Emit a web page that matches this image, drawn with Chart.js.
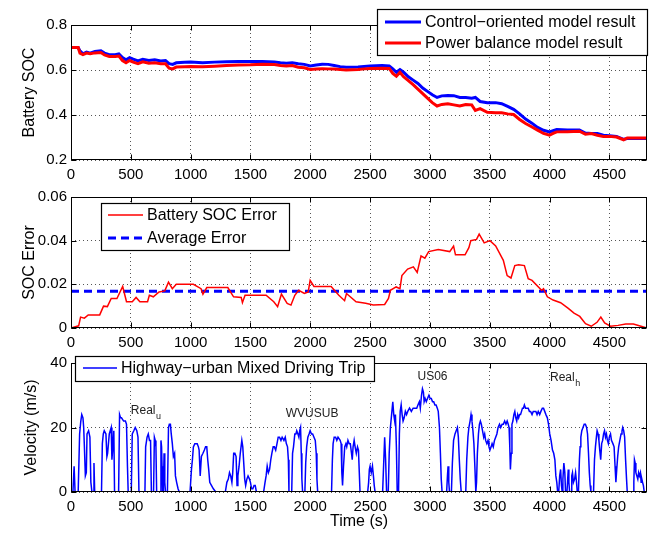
<!DOCTYPE html>
<html>
<head>
<meta charset="utf-8">
<script src="https://cdn.jsdelivr.net/npm/chart.js@4.4.1/dist/chart.umd.min.js"></script>
<style>
  html, body { margin: 0; padding: 0; background: #fff; }
  #wrap { position: relative; width: 659px; height: 533px; overflow: hidden; }
  canvas { position: absolute; left: 0; }
</style>
</head>
<body>
<div id="wrap">
  <canvas id="c1" width="659" height="182" style="top:0px"></canvas>
  <canvas id="c2" width="659" height="168" style="top:182px"></canvas>
  <canvas id="c3" width="659" height="183" style="top:350px"></canvas>
</div>
<script>
// ---------------- DATA ----------------
const X_MAX = 4815;
const xTickValues = [0, 500, 1000, 1500, 2000, 2500, 3000, 3500, 4000, 4500];

// Panel 1: Battery SOC
const socTime = [0,60,75,100,130,160,200,250,280,320,370,400,430,460,490,520,560,600,650,700,750,790,820,850,880,950,1000,1100,1200,1300,1400,1500,1600,1700,1750,1800,1850,1900,1950,2000,2050,2100,2150,2200,2250,2300,2400,2450,2500,2600,2660,2690,2720,2750,2780,2820,2860,2900,2940,2980,3020,3060,3100,3150,3200,3250,3300,3350,3380,3420,3480,3550,3600,3650,3700,3750,3800,3850,3900,3950,4000,4030,4060,4150,4250,4300,4350,4400,4450,4500,4560,4620,4650,4700,4815];
const socControl = [0.70,0.70,0.685,0.672,0.68,0.675,0.682,0.685,0.675,0.668,0.668,0.672,0.655,0.645,0.655,0.648,0.64,0.648,0.642,0.645,0.64,0.642,0.628,0.625,0.632,0.634,0.636,0.632,0.635,0.637,0.638,0.638,0.638,0.636,0.632,0.63,0.632,0.628,0.625,0.618,0.622,0.626,0.625,0.62,0.615,0.612,0.613,0.616,0.618,0.62,0.618,0.605,0.59,0.602,0.59,0.57,0.555,0.54,0.52,0.505,0.49,0.478,0.485,0.487,0.486,0.478,0.478,0.475,0.478,0.46,0.455,0.455,0.45,0.438,0.425,0.405,0.382,0.365,0.345,0.332,0.325,0.33,0.335,0.333,0.333,0.32,0.318,0.318,0.31,0.308,0.305,0.292,0.295,0.296,0.295];
const socPower = [0.70,0.70,0.675,0.668,0.675,0.672,0.676,0.678,0.667,0.66,0.66,0.662,0.642,0.632,0.642,0.635,0.628,0.636,0.63,0.632,0.628,0.628,0.608,0.605,0.613,0.614,0.615,0.614,0.617,0.62,0.622,0.623,0.626,0.624,0.62,0.618,0.62,0.612,0.61,0.602,0.604,0.606,0.605,0.604,0.602,0.60,0.602,0.605,0.607,0.608,0.607,0.585,0.572,0.59,0.57,0.553,0.535,0.515,0.495,0.475,0.455,0.44,0.447,0.45,0.445,0.44,0.447,0.445,0.42,0.428,0.412,0.41,0.41,0.405,0.402,0.38,0.362,0.348,0.333,0.318,0.31,0.318,0.325,0.326,0.328,0.315,0.318,0.31,0.305,0.305,0.302,0.29,0.298,0.298,0.298];
const socYTicks = [0.2, 0.4, 0.6, 0.8];

// Panel 2: SOC error
const errTime = [0,64,80,112,144,240,272,304,336,384,432,464,512,544,576,640,655,688,736,784,815,847,880,1023,1087,1103,1135,1311,1359,1423,1433,1455,1631,1695,1727,1759,1807,1839,1871,1903,1951,1983,1999,2031,2175,2191,2239,2287,2303,2383,2463,2527,2622,2654,2670,2718,2750,2766,2814,2862,2894,2926,2958,2990,3070,3166,3198,3214,3294,3326,3342,3390,3412,3454,3502,3550,3614,3646,3678,3710,3742,3790,3822,3854,3934,3950,3982,4030,4093,4157,4205,4253,4301,4349,4397,4429,4461,4509,4573,4637,4701,4765,4813];
const errValue = [0,0.001,0.005,0.0045,0.006,0.006,0.010,0.0098,0.0135,0.0135,0.019,0.012,0.012,0.014,0.012,0.012,0.015,0.0143,0.0165,0.017,0.021,0.018,0.020,0.020,0.018,0.0155,0.0185,0.0185,0.0143,0.014,0.0116,0.015,0.015,0.012,0.0098,0.0155,0.0113,0.0105,0.015,0.0173,0.0158,0.0165,0.0218,0.019,0.019,0.018,0.015,0.0125,0.0158,0.012,0.0113,0.0105,0.0108,0.0135,0.0173,0.0188,0.018,0.024,0.027,0.028,0.0255,0.033,0.032,0.035,0.036,0.035,0.0375,0.0335,0.0335,0.0368,0.040,0.0406,0.043,0.039,0.040,0.0376,0.031,0.024,0.0229,0.0286,0.029,0.0286,0.0226,0.0218,0.0173,0.018,0.0143,0.0128,0.0116,0.009,0.0068,0.0053,0.002,0.0008,0.0026,0.005,0.0023,0.0008,0.0012,0.0018,0.0018,0.0008,0];
const avgErrTime = [0, 4815];
const avgErrValue = [0.0168, 0.0168];
const errYTicks = [0, 0.02, 0.04, 0.06];

// Panel 3: velocity
const velTime = [0,16,26,34,60,72,82,90,100,106,112,120,128,134,147,158,166,175,186,192,198,255,262,270,278,292,300,306,320,336,342,350,358,364,398,406,414,422,440,455,464,472,478,504,512,525,537,550,560,568,618,624,636,646,656,665,672,690,697,704,710,716,745,752,757,761,766,772,778,784,790,806,815,822,831,838,847,856,866,873,883,895,905,995,1007,1015,1023,1035,1045,1055,1065,1071,1080,1090,1103,1115,1125,1135,1143,1151,1160,1175,1190,1210,1290,1303,1315,1325,1335,1345,1352,1360,1370,1380,1388,1395,1405,1415,1428,1436,1444,1452,1460,1470,1480,1492,1500,1510,1520,1530,1540,1550,1610,1622,1631,1640,1650,1660,1670,1679,1690,1700,1711,1722,1732,1743,1755,1765,1780,1791,1800,1810,1817,1822,1845,1852,1860,1871,1880,1887,1897,1905,1912,1919,1925,1930,1936,1955,1962,1970,1980,1990,1999,2010,2020,2031,2042,2050,2056,2062,2178,2185,2191,2200,2212,2222,2232,2240,2250,2258,2264,2270,2278,2288,2298,2305,2315,2325,2335,2345,2351,2358,2367,2375,2385,2395,2403,2410,2416,2480,2488,2494,2500,2510,2520,2528,2535,2542,2605,2615,2622,2630,2638,2652,2660,2670,2680,2690,2698,2706,2712,2720,2727,2738,2745,2752,2760,2768,2776,2785,2795,2805,2815,2830,2845,2860,2875,2890,2900,2912,2920,2930,2938,2946,2952,2960,2970,2980,2992,3002,3012,3022,3032,3042,3052,3062,3070,3080,3088,3095,3102,3140,3147,3152,3158,3164,3180,3188,3198,3210,3220,3230,3238,3246,3254,3262,3300,3308,3318,3326,3336,3344,3352,3360,3368,3376,3384,3390,3397,3406,3414,3422,3430,3440,3450,3458,3466,3476,3486,3494,3502,3512,3520,3530,3540,3550,3560,3570,3582,3592,3604,3614,3625,3636,3646,3655,3662,3668,3673,3680,3686,3694,3702,3710,3718,3726,3734,3742,3750,3758,3766,3774,3782,3790,3800,3810,3822,3832,3842,3854,3864,3874,3886,3896,3906,3918,3928,3940,3950,3960,3970,3982,3992,4002,4013,4025,4035,4045,4053,4061,4068,4077,4085,4093,4100,4106,4112,4120,4128,4134,4146,4152,4157,4162,4168,4180,4186,4192,4200,4210,4218,4226,4232,4242,4250,4256,4262,4270,4280,4290,4300,4310,4318,4326,4333,4340,4346,4368,4376,4384,4392,4398,4406,4413,4420,4428,4436,4444,4452,4460,4468,4476,4484,4492,4500,4510,4518,4530,4540,4548,4555,4562,4570,4578,4588,4598,4606,4612,4620,4628,4636,4644,4650,4700,4705,4710,4716,4722,4730,4738,4745,4752,4760,4766,4772,4778,4785,4792,4815];
const velSpeed = [0,0,8,0,0,18,22,24,23,20,14,5,6,18,19,17,3,0,0,9,0,0,15,18,19,18,11,12,18,20,10,14,19,0,0,24,23,23,22,22,21,8,0,0,18,19,20,19,17,0,0,14,17,18,16,16,0,0,17,16,14,0,0,16,14,8,0,0,12,3,0,0,20,21,21,18,15,11,12,5,3,1,0,0,7,10,14,15,15,15,14,13,5,11,12,13,14,14,10,7,3,2,1,0,0,3,4,6,5,3,6,12,12,11,2,5,8,12,16,14,9,4,2,4,5,4,3,1,1,2,2,0,0,3,5,8,6,7,10,12,14,14,13,15,17,17,16,17,16,17,15,14,10,0,0,12,14,18,18,19,18,17,19,20,12,4,0,0,9,14,17,18,19,18,18,17,16,12,4,0,0,10,15,17,17,16,17,17,16,15,6,2,8,14,15,14,16,15,15,12,10,14,16,14,12,14,13,6,0,0,3,7,8,6,8,5,2,0,0,10,17,10,0,0,12,20,24,28,24,22,24,14,0,0,18,25,27,24,22,23,25,24,25,26,25,26,26,26,27,28,26,30,32,31,28,29,28,29,30,29,29,28,28,27,27,26,25,20,12,4,0,0,5,8,3,0,0,9,16,18,19,20,17,10,4,0,0,10,17,20,22,24,22,19,15,8,0,3,12,18,21,22,21,19,17,18,16,15,16,14,13,14,15,14,16,17,18,20,21,20,21,21,22,21,22,21,20,14,7,12,21,22,24,25,23,22,24,23,24,24,25,26,26,27,26,26,26,25,25,24,25,25,25,24,25,24,25,26,26,25,24,23,21,18,16,13,12,10,5,3,0,0,5,7,2,0,4,9,6,0,0,4,7,3,0,0,5,6,3,4,6,3,0,0,10,14,17,19,20,21,21,20,18,12,6,2,0,0,10,14,17,19,18,16,13,10,15,16,18,19,17,18,16,15,17,18,16,15,14,8,3,7,11,14,16,18,19,20,19,17,10,4,0,0,3,10,9,6,5,4,6,5,6,3,4,3,2,0,0];
const velYTicks = [0, 20, 40];

// Cycle annotations (text, subscript, time, velocity)
const cycleNames = ['Real', 'WVUSUB', 'US06', 'Real'];
const cycleSubs  = ['u', '', '', 'h'];
const cycleTime  = [500, 2015, 3022, 4004];
const cycleVel   = [25.3, 24.4, 35.8, 35.5];

// ---------------- STYLE / HELPERS ----------------
const FONT = "'Liberation Sans', Arial, Helvetica, sans-serif";
const TICK_FONT = { family: FONT, size: 15 };
const TITLE_FONT = { family: FONT, size: 16 };

function pts(xs, ys) { return xs.map((x, i) => ({ x: x, y: ys[i] })); }

function xScale(title, height) {
  return {
    type: 'linear', min: 0, max: X_MAX,
    afterFit: s => { s.height = height; },
    afterBuildTicks: s => { s.ticks = xTickValues.map(v => ({ value: v })); },
    ticks: { autoSkip: false, maxRotation: 0, padding: 6, color: '#000', font: TICK_FONT,
             callback: v => String(v) },
    grid: { color: '#555', lineWidth: 1, drawTicks: false },
    border: { display: false, dash: [1, 3] },
    title: title ? { display: true, text: title, color: '#000', font: TITLE_FONT, padding: { top: 0, bottom: 2 } }
                 : { display: false }
  };
}
function yScale(tickVals, title, titlePad) {
  return {
    type: 'linear', min: tickVals[0], max: tickVals[tickVals.length - 1],
    afterFit: s => { s.width = 71; },
    afterBuildTicks: s => { s.ticks = tickVals.map(v => ({ value: v })); },
    ticks: { padding: 4, color: '#000', font: TICK_FONT, autoSkip: false,
             callback: v => String(+(+v).toFixed(6)) },
    grid: { color: '#555', lineWidth: 1, drawTicks: false },
    border: { display: false, dash: [1, 3] },
    title: { display: true, text: title, color: '#000', font: TITLE_FONT, padding: { top: titlePad, bottom: 0 } }
  };
}

// frame, inward ticks, legend box, annotations
function framePlugin(legendCfg, annot) {
  return {
    id: 'frame',
    afterDraw(chart) {
      const ctx = chart.ctx, a = chart.chartArea;
      const L = Math.round(a.left) + 0.5, R = Math.round(a.right) - 0.5;
      const T = Math.round(a.top) + 0.5, B = Math.round(a.bottom) - 0.5;
      ctx.save();
      ctx.strokeStyle = '#000'; ctx.lineWidth = 1; ctx.setLineDash([]);
      ctx.strokeRect(L, T, R - L, B - T);
      const xs = chart.scales.x, ys = chart.scales.y;
      ctx.beginPath();
      xs.ticks.forEach(tk => {
        const px = Math.round(xs.getPixelForValue(tk.value)) + 0.5;
        ctx.moveTo(px, B); ctx.lineTo(px, B - 5);
        ctx.moveTo(px, T); ctx.lineTo(px, T + 5);
      });
      ys.ticks.forEach(tk => {
        const py = Math.round(ys.getPixelForValue(tk.value)) + 0.5;
        ctx.moveTo(L, py); ctx.lineTo(L + 5, py);
        ctx.moveTo(R, py); ctx.lineTo(R - 5, py);
      });
      ctx.stroke();

      if (annot) {
        ctx.fillStyle = '#222';
        ctx.textBaseline = 'middle';
        annot.names.forEach((nm, i) => {
          const px = xs.getPixelForValue(annot.t[i]);
          const py = ys.getPixelForValue(annot.v[i]);
          ctx.font = '12px ' + FONT;
          const w1 = ctx.measureText(nm).width;
          ctx.font = '9px ' + FONT;
          const w2 = annot.subs[i] ? ctx.measureText(annot.subs[i]).width : 0;
          const x0 = annot.align[i] === 'left' ? px : px - (w1 + w2) / 2;
          ctx.font = '12px ' + FONT;
          ctx.textAlign = 'left';
          ctx.fillText(nm, x0, py);
          if (annot.subs[i]) {
            ctx.font = '9px ' + FONT;
            ctx.fillText(annot.subs[i], x0 + w1 + 0.5, py + 6);
          }
        });
      }

      if (legendCfg) {
        const g = legendCfg;
        ctx.fillStyle = '#fff';
        ctx.fillRect(g.x, g.y, g.w, g.h);
        ctx.strokeStyle = '#000'; ctx.lineWidth = 1.2;
        ctx.strokeRect(g.x + 0.5, g.y + 0.5, g.w, g.h);
        ctx.font = '16px ' + FONT;
        ctx.textAlign = 'left'; ctx.textBaseline = 'middle';
        g.items.forEach((it, i) => {
          const ds = chart.data.datasets[it];
          const yy = g.y + g.rowY[i];
          ctx.strokeStyle = ds.borderColor;
          ctx.lineWidth = g.lineW[i];
          ctx.setLineDash(ds.borderDash || []);
          ctx.beginPath();
          ctx.moveTo(g.x + g.lineX0, yy); ctx.lineTo(g.x + g.lineX1, yy);
          ctx.stroke();
          ctx.setLineDash([]);
          ctx.fillStyle = '#000';
          ctx.fillText(ds.label, g.x + g.textX, yy + 1);
        });
      }
      ctx.restore();
    }
  };
}

const common = {
  responsive: false, animation: false, events: [],
  plugins: { legend: { display: false }, tooltip: { enabled: false } },
  elements: { point: { radius: 0 }, line: { tension: 0 } }
};

// ---------------- CHART 1 ----------------
new Chart(document.getElementById('c1'), {
  type: 'line',
  data: { datasets: [
    { label: 'Control\u2212oriented model result', data: pts(socTime, socControl), borderColor: '#0000ff', borderWidth: 3, order: 1, fill: false },
    { label: 'Power balance model result', data: pts(socTime, socPower), borderColor: '#ff0000', borderWidth: 3, order: 0, fill: false }
  ]},
  options: Object.assign({}, common, {
    layout: { padding: { top: 25, right: 12, left: 0, bottom: 0 } },
    scales: { x: xScale(null, 22), y: yScale(socYTicks, 'Battery SOC', 20) }
  }),
  plugins: [framePlugin({ x: 377, y: 9, w: 270, h: 46, items: [0, 1], rowY: [13, 34], lineW: [3, 3], lineX0: 8, lineX1: 44, textX: 48 }, null)]
});

// ---------------- CHART 2 ----------------
new Chart(document.getElementById('c2'), {
  type: 'line',
  data: { datasets: [
    { label: 'Battery SOC Error', data: pts(errTime, errValue), borderColor: '#ff0000', borderWidth: 1.5, fill: false },
    { label: 'Average Error', data: pts(avgErrTime, avgErrValue), borderColor: '#0000ff', borderWidth: 3, borderDash: [8, 5], fill: false }
  ]},
  options: Object.assign({}, common, {
    layout: { padding: { top: 15, right: 12, left: 0, bottom: 0 } },
    scales: { x: xScale(null, 22), y: yScale(errYTicks, 'SOC Error', 20) }
  }),
  plugins: [framePlugin({ x: 101, y: 21, w: 188, h: 47, items: [0, 1], rowY: [12, 35], lineW: [1.5, 3], lineX0: 7, lineX1: 42, textX: 46 }, null)]
});

// ---------------- CHART 3 ----------------
new Chart(document.getElementById('c3'), {
  type: 'line',
  data: { datasets: [
    { label: 'Highway\u2212urban Mixed Driving Trip', data: pts(velTime, velSpeed), borderColor: '#0000ff', borderWidth: 1.5, fill: false }
  ]},
  options: Object.assign({}, common, {
    layout: { padding: { top: 9, right: 12, left: 0, bottom: 0 } },
    scales: { x: xScale('Time (s)', 41), y: yScale(velYTicks, 'Velocity (m/s)', 22) }
  }),
  plugins: [framePlugin({ x: 75, y: 6, w: 299, h: 25, items: [0], rowY: [12], lineW: [1.5], lineX0: 8, lineX1: 42, textX: 46 },
    { names: cycleNames, subs: cycleSubs, t: cycleTime, v: cycleVel, align: ['left', 'center', 'center', 'left'] })]
});
</script>
</body>
</html>
